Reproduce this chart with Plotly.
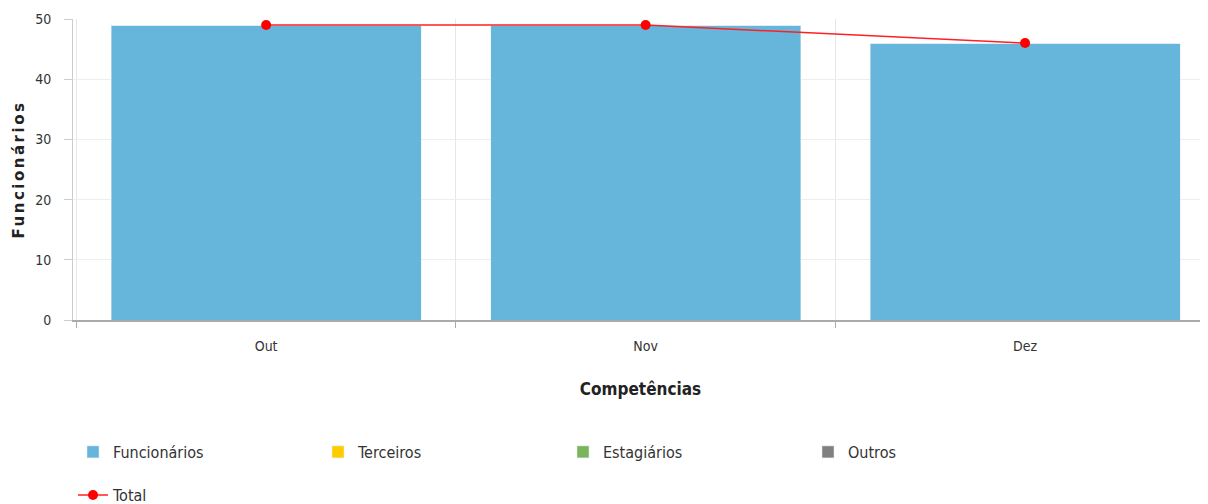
import plotly.graph_objects as go

categories = ["Out", "Nov", "Dez"]
funcionarios = [49, 49, 46]
terceiros = [0, 0, 0]
estagiarios = [0, 0, 0]
outros = [0, 0, 0]
total = [49, 49, 46]

font = "DejaVu Sans Condensed, Open Sans, sans-serif"

fig = go.Figure()
fig.add_bar(x=categories, y=funcionarios, name="Funcionários", marker_color="#66B5DB")
fig.add_bar(x=categories, y=terceiros, name="Terceiros", marker_color="#FFCC00")
fig.add_bar(x=categories, y=estagiarios, name="Estagiários", marker_color="#7AB55C")
fig.add_bar(x=categories, y=outros, name="Outros", marker_color="#808080")
fig.add_scatter(x=categories, y=total, name="Total", mode="lines+markers",
                line=dict(color="#FF2020", width=1.5),
                marker=dict(color="#FF0000", size=10), legend="legend2")

# page body has an 8px margin: the figure is sized/positioned to compensate
fig.update_layout(
    width=1200, height=496,
    barmode="stack", bargap=0.183,
    plot_bgcolor="white", paper_bgcolor="white",
    margin=dict(l=65, r=0, t=11, b=184, autoexpand=False),
    font=dict(family=font, size=14, color="#333333"),
    showlegend=True,
    legend=dict(orientation="h", x=0.0, xanchor="left", y=-0.4385, yanchor="middle",
                entrywidth=200, entrywidthmode="pixels",
                font=dict(family=font, size=16, color="#333333"),
                traceorder="normal"),
    legend2=dict(orientation="h", x=0.0, xanchor="left", y=-0.582, yanchor="middle",
                 font=dict(family=font, size=16, color="#333333")),
)
fig.update_xaxes(
    range=[-0.509, 2.482], tickson="boundaries", showgrid=True, gridcolor="#E6E6E6",
    ticks="outside", ticklen=6, tickcolor="#AAAAAA", automargin=False,
    ticklabelstandoff=12,
    showline=True, linecolor="#AAAAAA", linewidth=2,
    title=dict(text="<b>Competências</b>", font=dict(family=font, size=17, color="#222222"), standoff=30),
)
fig.update_yaxes(
    range=[0, 50], dtick=10, showgrid=True, gridcolor="#EEEEEE",
    ticks="outside", ticklen=8, tickcolor="#CCCCCC", automargin=False,
    ticklabelstandoff=10,
    showline=True, linecolor="#CCCCCC", linewidth=1, zeroline=False,
    title=dict(text="<b><span style=\"letter-spacing:2.5px\">Funcionários</span></b>",
               font=dict(family="Verdana, DejaVu Sans, sans-serif", size=15, color="#222222"), standoff=6),
)

fig.write_html("out.html")
